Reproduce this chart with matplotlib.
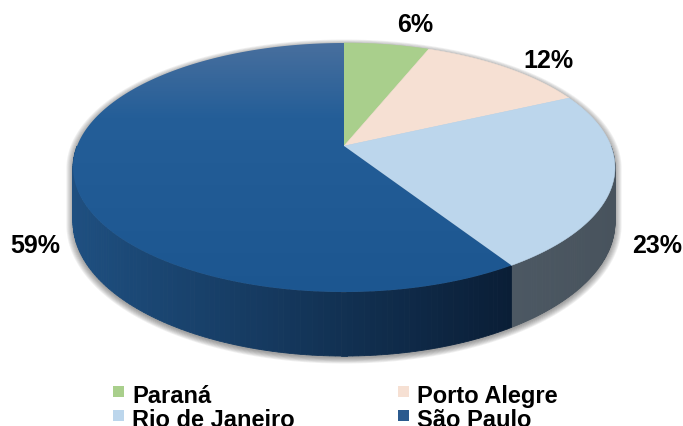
import numpy as np
import matplotlib.pyplot as plt
from matplotlib.patches import Polygon, Rectangle
from matplotlib.colors import to_rgb

labels = ['Paraná', 'Porto Alegre', 'Rio de Janeiro', 'São Paulo']
shares = [6, 12, 23, 59]
pct_labels = ['6%', '12%', '23%', '59%']
top_colors = ['#a9cf8c', '#f6e0d3', '#bcd6ec', '#1f5a93']
side_left = ['#7f9c69', '#b9a89e', '#4c5863', '#1e4f80']
side_right = ['#7f9c69', '#b9a89e', '#48535d', '#0a1e36']
legend_colors = ['#a9cf8c', '#f6e0d3', '#bcd6ec', '#2b5a8e']

# perspective of the tilted pie (pixel space)
CX, CY = 344, 147
A, B, K = 266.9, 120.8, 0.1726
DEPTH = 53

plt.rcParams['font.family'] = ['Liberation Sans', 'DejaVu Sans']


def proj(theta, r=1.0, drop=0.0):
    t = np.radians(theta)
    u = r * np.sin(t)
    v = r * np.cos(t)
    w = 1 + K * v
    return CX + A * u / w, CY - B * v / w + drop / w


fig = plt.figure(figsize=(6.83, 4.27), dpi=100)
ax = fig.add_axes([0, 0, 1, 1])
ax.set_xlim(0, 683)
ax.set_ylim(427, 0)
ax.axis('off')

bounds = np.concatenate([[0], np.cumsum(shares)]) / sum(shares) * 360.0

# soft drop shadow under the silhouette
back = np.linspace(260, 460, 120)
front = np.linspace(100, 260, 120)
sx = np.concatenate([proj(back)[0], proj(front, drop=DEPTH)[0]])
sy = np.concatenate([proj(back)[1], proj(front, drop=DEPTH)[1]])
for i in range(8):
    fx = 1.0 + 0.0035 * i
    fy = 1.0 + 0.005 * i
    pts = np.column_stack([(sx - CX) * fx + CX, (sy - 200) * fy + 200 + 2])
    ax.add_patch(Polygon(pts, closed=True, facecolor='#444444', edgecolor='none',
                         alpha=0.08, zorder=1))

# side walls (front half only)
for i in range(len(shares)):
    a0, a1 = max(bounds[i], 90), min(bounds[i + 1], 270)
    if a1 <= a0:
        continue
    th = np.linspace(a0, a1, 120)
    x, y = proj(th)
    xb, yb = proj(th, drop=DEPTH)
    cl, cr = np.array(to_rgb(side_left[i])), np.array(to_rgb(side_right[i]))
    xmin, xmax = x.min(), x.max()
    for j in range(len(th) - 1):
        frac = ((x[j] + x[j + 1]) / 2 - xmin) / max(xmax - xmin, 1)
        c = cl + (cr - cl) * frac
        quad = [(x[j], y[j]), (x[j + 1], y[j + 1]), (xb[j + 1], yb[j + 1]), (xb[j], yb[j])]
        ax.add_patch(Polygon(quad, closed=True, facecolor=c, edgecolor=c, lw=0.6, zorder=2))

# top surface
for i in range(len(shares)):
    th = np.linspace(bounds[i], bounds[i + 1], 200)
    x, y = proj(th)
    pts = np.column_stack([np.concatenate([[CX], x]), np.concatenate([[CY], y])])
    if labels[i] == 'São Paulo':
        poly = Polygon(pts, closed=True, facecolor='none', edgecolor='none', zorder=3)
        ax.add_patch(poly)
        ys = np.linspace(0, 1, 256)
        c_top, c_mid, c_bot = [np.array(to_rgb(c)) for c in ('#4a709e', '#245e98', '#1c5690')]
        grad = np.where(ys[:, None] < 0.3,
                        c_top + (c_mid - c_top) * (ys[:, None] / 0.3),
                        c_mid + (c_bot - c_mid) * ((ys[:, None] - 0.3) / 0.7))
        img = ax.imshow(grad[:, None, :], extent=(60, 520, 300, 40), aspect='auto',
                        zorder=3, interpolation='bilinear')
        img.set_clip_path(poly)
    else:
        ax.add_patch(Polygon(pts, closed=True, facecolor=top_colors[i],
                             edgecolor=top_colors[i], lw=0.4, zorder=3))
ax.set_xlim(0, 683)
ax.set_ylim(427, 0)

# percentage labels
label_pos = [(415, 25), (548, 61), (657, 246), (35, 246)]
for (lx, ly), txt in zip(label_pos, pct_labels):
    ax.text(lx, ly, txt, fontsize=18, fontweight='bold', ha='center', va='center',
            color='black', zorder=5)

# legend
legend_pos = [(113, 403), (398, 403), (113, 427), (398, 427)]
for (lx, ly), name, col in zip(legend_pos, labels, legend_colors):
    ax.add_patch(Rectangle((lx, ly - 16), 11, 11, facecolor=col, edgecolor='none', zorder=5))
    ax.text(lx + 19, ly, name, fontsize=17, fontweight='bold', ha='left', va='baseline',
            color='black', zorder=5)

fig.savefig('out.png', dpi=100)
